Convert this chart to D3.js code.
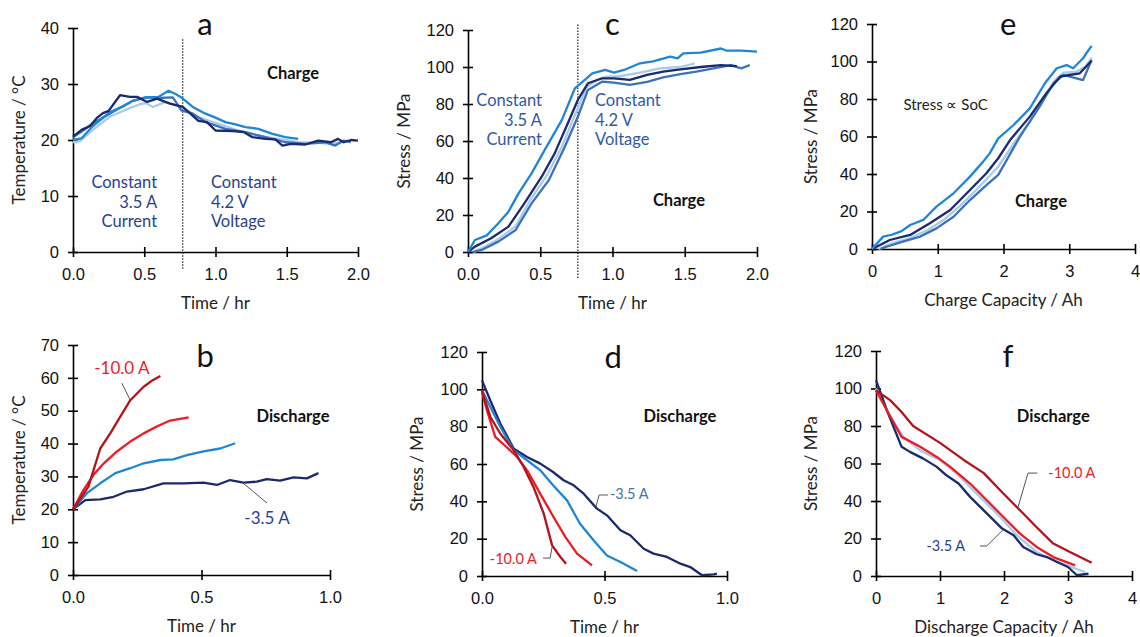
<!DOCTYPE html>
<html>
<head>
<meta charset="utf-8">
<script src="https://cdn.jsdelivr.net/npm/d3@7"></script>
<style>
  body { margin: 0; background: #fff; }
  svg { font-family: Lato, "Noto Sans", sans-serif; }
</style>
</head>
<body>
<svg id="chart" width="1140" height="637"></svg>
<script>
// colours used for the traces
var NAVY = "#1b2a6e", MID = "#3b73b9", BRIGHT = "#1f86d6", LIGHT = "#a9cbea",
    RED = "#ec1c24", DKRED = "#b3141b", TXTNAVY = "#2b3f8f", TXTBLUE = "#4a72a8";

// a: charge temperature vs time [hr, degC]
var aNavy = [[0,20.6],[0.06,21.8],[0.12,22.5],[0.17,24],[0.21,24.8],[0.25,25.2],[0.33,28],[0.4,27.7],[0.45,27.7],[0.52,26.8],[0.59,27.4],[0.68,26.5],[0.77,25.9],[0.82,24.8],[0.88,23.4],[0.94,23.2],[1.0,21.7],[1.12,21.6],[1.2,21.4],[1.26,20.5],[1.35,20.2],[1.42,20.1],[1.47,19],[1.53,19.3],[1.63,19.2],[1.72,19.9],[1.81,19.6],[1.86,20.2],[1.9,19.6],[1.95,20],[2.0,19.9]];
var aMid = [[0,20.5],[0.07,21.7],[0.14,23],[0.19,23.7],[0.3,25.3],[0.42,27],[0.51,27.6],[0.6,27.5],[0.7,27.6],[0.73,26.5],[0.76,25.3],[0.84,24.7],[0.93,23.2],[1.0,22.6],[1.07,22],[1.21,21.4],[1.35,20.5],[1.49,19.6],[1.63,19.3],[1.77,19.6],[1.84,19],[1.9,19.9],[1.95,19.6]];
var aBright = [[0,20],[0.06,20.3],[0.14,22.5],[0.26,25],[0.35,26],[0.42,27],[0.51,27.6],[0.6,27.7],[0.67,28.8],[0.72,28.2],[0.76,27.6],[0.84,25.9],[0.93,24.7],[1.0,24],[1.07,23.2],[1.14,22.8],[1.21,22.3],[1.3,22],[1.4,21.1],[1.49,20.5],[1.58,20.2]];
var aLight = [[0,19.6],[0.05,19.8],[0.14,21.8],[0.26,24.2],[0.37,25.4],[0.46,26.3],[0.51,26.6],[0.56,25.9],[0.65,26.8],[0.76,25.9],[0.88,24.1],[1.02,22.9],[1.16,21.7],[1.3,20.8],[1.44,20.2],[1.58,19.6],[1.72,19.5],[1.81,19.3],[1.88,19.6],[1.93,19.9]];

// c: charge stress vs time [hr, MPa]
var cBright = [[0,0],[0.048,6.5],[0.13,9],[0.21,15.5],[0.28,21.8],[0.35,31.7],[0.44,42.5],[0.53,55.1],[0.65,71.4],[0.74,88.5],[0.8,92.5],[0.86,96.6],[0.95,98.4],[1.01,97],[1.08,98.4],[1.19,102],[1.28,103],[1.4,105.6],[1.45,104.7],[1.49,107.4],[1.61,107.8],[1.75,110],[1.79,108.8],[1.89,108.8],[2.0,108.3]];
var cNavy = [[0,0],[0.048,2.9],[0.16,7.4],[0.28,13.7],[0.39,26.3],[0.51,40.7],[0.6,53.3],[0.69,69.5],[0.76,82.2],[0.83,91.2],[0.93,93.9],[1.01,93.9],[1.12,93],[1.24,95.7],[1.35,97.5],[1.47,98.7],[1.61,100],[1.75,101],[1.86,100.5]];
var cLight = [[0.04,0],[0.12,3],[0.22,7.5],[0.33,14],[0.43,28],[0.55,42],[0.65,57],[0.75,76],[0.82,89],[0.9,93.5],[0.96,94.8],[1.05,95],[1.19,97],[1.33,99.3],[1.47,100],[1.57,102]];
var cMid = [[0.03,0],[0.095,1.1],[0.21,5.6],[0.33,11.9],[0.44,26.3],[0.56,38.9],[0.67,56.9],[0.76,73.1],[0.83,87.6],[0.93,92.1],[1.01,91.5],[1.12,90.3],[1.24,92],[1.35,94.4],[1.47,96.2],[1.58,97.5],[1.7,99.3],[1.82,101],[1.89,99.3],[1.95,101]];

// e: charge stress vs capacity [Ah, MPa]
var eBright = [[0,0],[0.17,6.6],[0.3,7.6],[0.45,9.5],[0.58,12.8],[0.78,15.5],[0.98,22.6],[1.24,29.7],[1.49,38.6],[1.69,46.6],[1.79,51],[1.92,59],[2.15,66],[2.4,75],[2.63,88.4],[2.81,96.4],[2.96,98.1],[3.06,96.4],[3.21,101.7],[3.26,104.4],[3.34,108.3]];
var eNavy = [[0,0],[0.07,1.2],[0.27,4.8],[0.58,7.5],[0.88,13.7],[1.19,20.8],[1.49,31.5],[1.74,40.4],[1.92,48.4],[2.1,58.1],[2.4,70.6],[2.65,83],[2.86,91.9],[3.0,92.8],[3.16,93.7],[3.34,100.4]];
var eLight = [[0.1,0],[0.3,3],[0.55,5.5],[0.84,10],[1.09,15.5],[1.34,23],[1.6,32],[1.92,43.9],[2.15,56],[2.4,68],[2.6,80],[2.78,90],[2.91,94],[3.1,94.5],[3.24,97],[3.34,102]];
var eMid = [[0.13,0],[0.22,1.2],[0.47,3.9],[0.73,6.6],[0.98,11],[1.24,17.2],[1.49,26.1],[1.74,34.1],[1.92,39.5],[2.25,59.9],[2.55,75.9],[2.76,88.4],[2.91,92.8],[3.11,91],[3.21,90.1],[3.34,100.8]];

// b: discharge temperature vs time
var bDkRed = [[0,20],[0.03,23.4],[0.06,26.9],[0.106,38.5],[0.145,43.1],[0.184,48.2],[0.223,53.2],[0.275,57.3],[0.31,59.3],[0.34,60.6]];
var bRed = [[0,20],[0.041,25.9],[0.08,30.5],[0.12,34],[0.171,37.6],[0.223,40.6],[0.275,43.1],[0.326,45.2],[0.378,47],[0.45,48]];
var bBright = [[0,20],[0.054,24.9],[0.106,27.9],[0.165,31],[0.223,32.5],[0.275,34],[0.34,35],[0.39,35.2],[0.443,36.5],[0.508,37.6],[0.573,38.5],[0.631,40.1]];
var bNavy = [[0,20],[0.048,22.8],[0.106,23],[0.158,23.8],[0.21,25.4],[0.275,26.1],[0.352,27.9],[0.43,27.9],[0.508,28.1],[0.56,27.4],[0.611,28.9],[0.663,28.1],[0.715,28.4],[0.754,29.2],[0.806,28.7],[0.858,29.7],[0.91,29.4],[0.955,31]];

// d: discharge stress vs time
var dNavy = [[0,104.8],[0.034,94],[0.075,81.6],[0.13,68.2],[0.184,63.8],[0.238,60.2],[0.29,55.7],[0.333,51.3],[0.374,48.6],[0.415,44.1],[0.469,36.1],[0.51,32.5],[0.565,24.5],[0.605,21.8],[0.66,14.6],[0.7,12],[0.755,10.2],[0.81,6.6],[0.85,4.8],[0.898,0.4],[0.946,0.9],[0.959,1.25]];
var dBright = [[0,99.5],[0.034,90.5],[0.075,79.8],[0.13,67.3],[0.184,62],[0.238,56.6],[0.29,48.6],[0.347,40.5],[0.4,28],[0.456,19],[0.51,11],[0.565,7.5],[0.633,2.7]];
var dRed = [[0,98.6],[0.02,88.8],[0.054,74.5],[0.1,69.1],[0.143,63.8],[0.184,56.6],[0.238,44],[0.292,31.6],[0.34,21],[0.388,12],[0.449,5.7]];
var dDkRed = [[0,99.5],[0.034,85.2],[0.075,76.2],[0.13,67.3],[0.17,58.4],[0.21,47.7],[0.252,33.4],[0.286,16.4],[0.32,10.2],[0.343,6.6]];

// f: discharge stress vs capacity
var fDkRed = [[0,99],[0.22,93.8],[0.4,87.5],[0.58,80],[1.0,71],[1.37,61.9],[1.68,55],[1.99,44],[2.3,33.3],[2.51,26],[2.77,17.3],[3.03,12.8],[3.37,7.1]];
var fRed = [[0,99],[0.17,88.4],[0.4,74.2],[0.69,68.9],[0.95,63.5],[1.16,58.2],[1.47,49.3],[1.73,40.4],[1.99,31.5],[2.25,22.6],[2.51,15.5],[2.77,10.1],[3.11,5.7]];
var fLight = [[0,100],[0.22,85],[0.43,74.2],[0.69,67],[1.0,61.7],[1.26,54.6],[1.57,44],[1.89,33.3],[2.2,21.7],[2.51,12.8],[2.83,7.5],[3.27,2.1]];
var fNavy = [[0,104.5],[0.17,88.4],[0.4,68.9],[0.53,66.2],[0.74,62.6],[0.95,58.2],[1.1,53.7],[1.29,49.3],[1.47,42.2],[1.68,35.1],[1.97,25.3],[2.15,21.7],[2.3,15.5],[2.51,11.6],[2.67,10.1],[2.83,7.5],[3.0,4.8],[3.14,0.4],[3.32,1.2]];

// ticks
var timeTicks2 = [0, 0.5, 1, 1.5, 2];
var timeTicks1 = [0, 0.5, 1];
var capTicks = [0, 1, 2, 3, 4];
var tempTicks40 = [0, 10, 20, 30, 40];
var tempTicks70 = [0, 10, 20, 30, 40, 50, 60, 70];
var stressTicks = [0, 20, 40, 60, 80, 100, 120];

var svg = d3.select("#chart");

var panels = [
  { letter: "a", box: [73, 358, 252, 28], xd: [0, 2], yd: [0, 40], xt: timeTicks2, yt: tempTicks40, xf: ".1f",
    xlab: "Time / hr", ylab: "Temperature / \u00b0C", ylabX: 19,
    lines: [[aLight, LIGHT], [aMid, MID], [aBright, BRIGHT], [aNavy, NAVY]],
    letterAt: [0.926, 38.8], mode: "Charge", modeAt: [1.544, 30.9], divider: [0.77, 38, -3.2],
    texts: [
      { t: ["Constant", "3.5 A", "Current"], at: [0.59, 11.4], step: -3.5, anchor: "end", c: TXTNAVY },
      { t: ["Constant", "4.2 V", "Voltage"], at: [0.968, 11.4], step: -3.5, anchor: "start", c: TXTNAVY }
    ] },
  { letter: "c", box: [468, 757, 252, 30], xd: [0, 2], yd: [0, 120], xt: timeTicks2, yt: stressTicks, xf: ".1f",
    xlab: "Time / hr", ylab: "Stress / MPa", ylabX: 404,
    lines: [[cLight, LIGHT], [cMid, MID], [cNavy, NAVY], [cBright, BRIGHT]],
    letterAt: [1.0, 117.5], mode: "Charge", modeAt: [1.46, 24.9], divider: [0.76, 123, -14],
    texts: [
      { t: ["Constant", "3.5 A", "Current"], at: [0.512, 78.9], step: -10.6, anchor: "end", c: "#3158a6" },
      { t: ["Constant", "4.2 V", "Voltage"], at: [0.879, 78.9], step: -10.6, anchor: "start", c: "#3158a6" }
    ] },
  { letter: "e", box: [872, 1135, 249, 24], xd: [0, 4], yd: [0, 120], xt: capTicks, yt: stressTicks, xf: "d",
    xlab: "Charge Capacity / Ah", ylab: "Stress / MPa", ylabX: 811,
    lines: [[eLight, LIGHT], [eMid, MID], [eNavy, NAVY], [eBright, BRIGHT]],
    letterAt: [2.07, 114.2], mode: "Charge", modeAt: [2.57, 22.4],
    texts: [ { t: ["Stress \u221d SoC"], at: [1.12, 74], step: 0, anchor: "middle", c: "#222", size: 15 } ] },
  { letter: "b", box: [73, 330, 575, 345], xd: [0, 1], yd: [0, 70], xt: timeTicks1, yt: tempTicks70, xf: ".1f",
    xlab: "Time / hr", ylab: "Temperature / \u00b0C", ylabX: 19,
    lines: [[bNavy, NAVY], [bBright, BRIGHT], [bRed, RED], [bDkRed, DKRED]],
    letterAt: [0.514, 63.3], mode: "Discharge", modeAt: [0.856, 46.6],
    texts: [
      { t: ["-10.0 A"], at: [0.19, 61.2], step: 0, anchor: "middle", c: RED, size: 17 },
      { t: ["-3.5 A"], at: [0.755, 15.5], step: 0, anchor: "middle", c: TXTNAVY, size: 17 }
    ],
    leaders: [ [[0.19, 58.4], [0.222, 53.3]], [[0.661, 28], [0.755, 21.9]] ] },
  { letter: "d", box: [482, 727, 576, 352], xd: [0, 1], yd: [0, 120], xt: timeTicks1, yt: stressTicks, xf: ".1f",
    xlab: "Time / hr", ylab: "Stress / MPa", ylabX: 417,
    lines: [[dNavy, NAVY], [dBright, BRIGHT], [dRed, RED], [dDkRed, DKRED]],
    letterAt: [0.535, 111.4], mode: "Discharge", modeAt: [0.808, 82.5],
    texts: [
      { t: ["-3.5 A"], at: [0.522, 41.2], step: 0, anchor: "start", c: TXTBLUE, size: 14.5 },
      { t: ["-10.0 A"], at: [0.224, 6.4], step: 0, anchor: "end", c: RED, size: 14.5 }
    ],
    leaders: [ [[0.465, 37], [0.478, 43.4], [0.514, 43.4]], [[0.249, 9.6], [0.278, 9.6], [0.286, 15.5]] ] },
  { letter: "f", box: [876, 1132, 576, 351], xd: [0, 4], yd: [0, 120], xt: capTicks, yt: stressTicks, xf: "d",
    xlab: "Discharge Capacity / Ah", ylab: "Stress / MPa", ylabX: 811,
    lines: [[fLight, LIGHT], [fNavy, NAVY], [fRed, RED], [fDkRed, DKRED]],
    letterAt: [2.06, 111.5], mode: "Discharge", modeAt: [2.77, 82.1],
    texts: [
      { t: ["-10.0 A"], at: [3.06, 52.3], step: 0, anchor: "middle", c: RED, size: 14.5 },
      { t: ["-3.5 A"], at: [1.09, 13.3], step: 0, anchor: "middle", c: TXTNAVY, size: 14.5 }
    ],
    leaders: [ [[2.52, 54.9], [2.375, 54.9], [2.22, 36.8]], [[1.625, 16], [1.73, 16], [1.98, 24.5]] ] }
];

panels.forEach(function(p) {
  var x = d3.scaleLinear().domain(p.xd).range([p.box[0], p.box[1]]);
  var y = d3.scaleLinear().domain(p.yd).range([p.box[2], p.box[3]]);
  var g = svg.append("g");

  g.append("g").attr("transform", "translate(0," + p.box[2] + ")")
    .call(d3.axisBottom(x).tickValues(p.xt).tickFormat(d3.format(p.xf)).tickSizeInner(5).tickSizeOuter(0).tickPadding(11))
    .call(function(a) {
      a.select(".domain").attr("stroke", "#000").attr("stroke-width", 1.6);
      a.selectAll(".tick line").attr("y1", -5).attr("y2", 5).attr("stroke-width", 1.6);
      a.selectAll("text").attr("font-size", 16.5).attr("fill", "#111");
    });

  g.append("g").attr("transform", "translate(" + p.box[0] + ",0)")
    .call(d3.axisLeft(y).tickValues(p.yt).tickSizeInner(5).tickSizeOuter(0).tickPadding(9))
    .call(function(a) {
      a.select(".domain").attr("stroke", "#000").attr("stroke-width", 1.6);
      a.selectAll(".tick line").attr("x1", -5).attr("x2", 5).attr("stroke-width", 1.6);
      a.selectAll("text").attr("font-size", 16.5).attr("fill", "#111");
    });

  // axis titles
  g.append("text").attr("x", (p.box[0] + p.box[1]) / 2).attr("y", p.box[2] + 57)
    .attr("text-anchor", "middle").attr("font-size", 17).attr("fill", "#222").text(p.xlab);
  g.append("text").attr("transform", "translate(" + p.ylabX + "," + (p.box[2] + p.box[3]) / 2 + ") rotate(-90)")
    .attr("text-anchor", "middle").attr("dy", "0.35em").attr("font-size", 17).attr("fill", "#222").text(p.ylab);

  if (p.divider) {
    g.append("line").attr("x1", x(p.divider[0])).attr("x2", x(p.divider[0]))
      .attr("y1", y(p.divider[1])).attr("y2", y(p.divider[2]))
      .attr("stroke", "#222").attr("stroke-width", 1.2).attr("stroke-dasharray", "1.5,1.5");
  }

  var line = d3.line().x(function(d) { return x(d[0]); }).y(function(d) { return y(d[1]); });
  p.lines.forEach(function(s) {
    g.append("path").attr("d", line(s[0])).attr("fill", "none")
      .attr("stroke", s[1]).attr("stroke-width", 2.3).attr("stroke-linejoin", "round");
  });

  (p.leaders || []).forEach(function(l) {
    g.append("path").attr("d", line(l)).attr("fill", "none").attr("stroke", "#555").attr("stroke-width", 1);
  });

  g.append("text").attr("x", x(p.letterAt[0])).attr("y", y(p.letterAt[1]))
    .attr("text-anchor", "middle").attr("font-size", 31).attr("fill", "#111").text(p.letter);
  g.append("text").attr("x", x(p.modeAt[0])).attr("y", y(p.modeAt[1]))
    .attr("text-anchor", "middle").attr("font-size", 16.5).attr("font-weight", "bold").attr("fill", "#111").text(p.mode);

  p.texts.forEach(function(t) {
    t.t.forEach(function(s, i) {
      g.append("text").attr("x", x(t.at[0])).attr("y", y(t.at[1] + i * t.step))
        .attr("text-anchor", t.anchor).attr("font-size", t.size || 16.5).attr("fill", t.c).text(s);
    });
  });
});
</script>
</body>
</html>
